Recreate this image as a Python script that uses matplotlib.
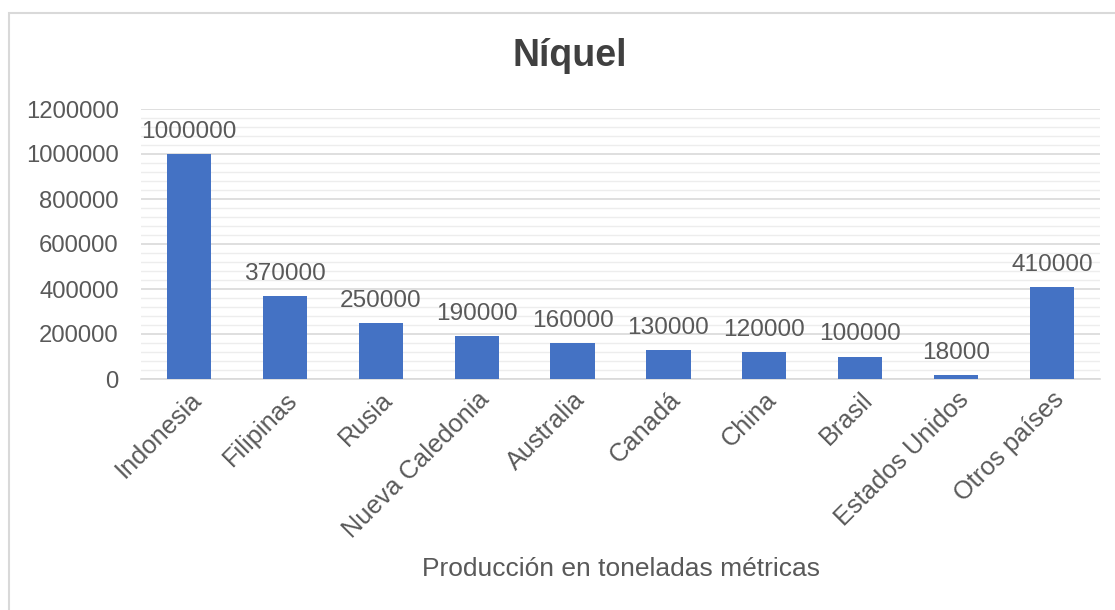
import matplotlib.pyplot as plt
from matplotlib.patches import Rectangle
from matplotlib.ticker import MultipleLocator

plt.rcParams['font.family'] = ['Liberation Sans', 'DejaVu Sans']

paises = ['Indonesia', 'Filipinas', 'Rusia', 'Nueva Caledonia', 'Australia',
          'Canadá', 'China', 'Brasil', 'Estados Unidos', 'Otros países']
produccion = [1000000, 370000, 250000, 190000, 160000,
              130000, 120000, 100000, 18000, 410000]

gris = '#595959'

fig = plt.figure(figsize=(11.15, 6.1), dpi=100)
ax = fig.add_axes([141 / 1115, 1 - 379 / 610, 959 / 1115, 270 / 610])

x = range(len(paises))
ax.bar(x, produccion, width=0.46, color='#4472C4', zorder=3)
for i, v in zip(x, produccion):
    ax.annotate(str(v), (i, v), xytext=(0, 8), textcoords='offset points',
                ha='center', va='bottom', fontsize=17.6, color=gris)

ax.set_xlim(-0.5, len(paises) - 0.5)
ax.set_ylim(0, 1200000)
ax.yaxis.set_major_locator(MultipleLocator(200000))
ax.yaxis.set_minor_locator(MultipleLocator(40000))
ax.grid(axis='y', which='major', color='#D9D9D9', linewidth=1.2, zorder=0)
ax.grid(axis='y', which='minor', color='#EDEDED', linewidth=1.0, zorder=0)

for s in ['top', 'right', 'left']:
    ax.spines[s].set_visible(False)
ax.spines['bottom'].set_color('#D9D9D9')
ax.spines['bottom'].set_linewidth(1.2)

ax.set_yticks([0, 200000, 400000, 600000, 800000, 1000000, 1200000])
ax.set_yticklabels([str(t) for t in [0, 200000, 400000, 600000, 800000, 1000000, 1200000]])
ax.tick_params(axis='y', which='both', length=0, pad=16, labelsize=17.2, labelcolor=gris)
ax.set_xticks(list(x))
ax.set_xticklabels(paises, rotation=45, ha='right', rotation_mode='anchor')
ax.tick_params(axis='x', length=0, pad=6, labelsize=18.3, labelcolor=gris)

fig.text(570 / 1115, 1 - 56 / 610, 'Níquel', ha='center', va='center',
         fontsize=27, fontweight='bold', color='#404040')
fig.text(621 / 1115, 1 - 569 / 610, 'Producción en toneladas métricas',
         ha='center', va='center', fontsize=19, color=gris)

fig.patches.append(Rectangle((9 / 1115, -0.1), 1.2, 1 - 13 / 610 + 0.1,
                             transform=fig.transFigure, fill=False,
                             edgecolor='#D9D9D9', linewidth=1.5))

fig.savefig('out.png', dpi=100)
